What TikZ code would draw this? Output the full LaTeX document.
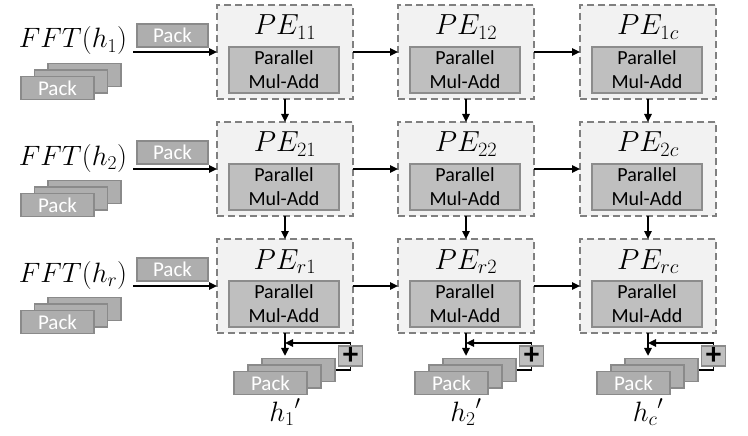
\documentclass[tikz,border=0pt]{standalone}
\usepackage{fix-cm}
\usepackage{fontspec}
\setsansfont{Carlito}
\usetikzlibrary{arrows.meta,calc}
\definecolor{peFill}{HTML}{F2F2F2}
\definecolor{peLine}{HTML}{808080}
\definecolor{inFill}{HTML}{BFBFBF}
\definecolor{inLine}{HTML}{8C8C8C}
\definecolor{pkFill}{HTML}{AEAEAE}
\definecolor{pkLine}{HTML}{8A8A8A}
\begin{document}
\begin{tikzpicture}[x=1pt,y=-1pt,
  pebox/.style={draw=peLine, line width=1.8pt, dash pattern=on 7pt off 4pt, fill=peFill,
    minimum width=136pt, minimum height=94pt, inner sep=0pt, outer sep=0pt, anchor=north west},
  pelabel/.style={font=\fontsize{29}{31}\selectfont, inner sep=0pt, anchor=base},
  mulbox/.style={draw=inLine, line width=1.3pt, fill=inFill, minimum width=110pt, minimum height=46pt,
    inner sep=0pt, align=center, font=\sffamily\fontsize{20}{24}\selectfont},
  pack/.style={draw=pkLine, line width=1.3pt, fill=pkFill, minimum width=73pt, minimum height=23pt,
    inner sep=0pt, text=white, font=\sffamily\fontsize{21}{22}\selectfont},
  plusbox/.style={draw=pkLine, line width=1.3pt, fill=inFill, minimum width=24pt, minimum height=20pt,
    inner sep=0pt, font=\sffamily\bfseries\fontsize{31}{31}\selectfont},
  mathlbl/.style={font=\fontsize{28}{30}\selectfont, inner sep=0pt, anchor=base},
  conn/.style={line width=1.6pt, -{Triangle[length=8pt,width=7.5pt]}},
  link/.style={line width=1.6pt}]
\path[fill=white] (0,0) rectangle (748,436);
\useasboundingbox (0,0) rectangle (748,436);
% PE grid
\foreach \i/\y/\rs in {1/5/1,2/122/2,3/239/r}{
  \foreach \j/\x/\cs in {1/217/1,2/398/2,3/580/c}{
    \node[pebox] (pe\i\j) at (\x,\y) {};
    \node[pelabel] (pl\i\j) at (\x+68,\y+30) {$PE_{\rs\cs}$};
    \node[mulbox] (pm\i\j) at (\x+67,\y+65) {Parallel\\Mul-Add};
  }
}
% horizontal and vertical connectors
\foreach \i in {1,2,3}{
  \draw[conn] (pe\i1.east) -- (pe\i2.west);
  \draw[conn] (pe\i2.east) -- (pe\i3.west);
}
\foreach \j in {1,2,3}{
  \draw[conn] (pe1\j.south) -- (pe2\j.north);
  \draw[conn] (pe2\j.south) -- (pe3\j.north);
}
% inputs
\foreach \i/\y/\rs in {1/5/1,2/122/2,3/239/r}{
  \node[mathlbl] (fft\i) at (73,\y+43) {$FFT(h_{\rs})$};
  \node[pack, minimum width=71pt] (ps\i) at (172.5,\y+30.5) {Pack};
  \coordinate (in\i) at ($(pe\i1.west)+(-84,0)$);
  \draw[conn] (in\i) -- (pe\i1.west);
  \node[pack] (sb\i) at (84.5,\y+70) {};
  \node[pack] (sm\i) at (71,\y+76.5) {};
  \node[pack] (sf\i) at (57.5,\y+83) {Pack};
}
% outputs
\foreach \j/\x/\cs in {1/217/1,2/398/2,3/580/c}{
  \node[pack] (bk\j) at (\x+81.5,370) {};
  \node[pack] (bm\j) at (\x+67.5,376.5) {};
  \node[pack] (bf\j) at (\x+53.5,383) {Pack};
  \node[plusbox] (plus\j) at (\x+133.5,356) {+};
  \draw[conn, shorten >=2pt] (pe3\j.south) -- (pe3\j.south |- bk\j.north);
  \draw[link] (bk\j.east) -| (plus\j.south);
  \coordinate (fb\j) at ($(pe3\j.south)+(0,10)$);
  \draw[conn] (plus\j.north) |- (fb\j);
  \node[mathlbl] (hp\j) at (\x+68,421) {${h_{\cs}}'$};
}
\end{tikzpicture}
\end{document}
